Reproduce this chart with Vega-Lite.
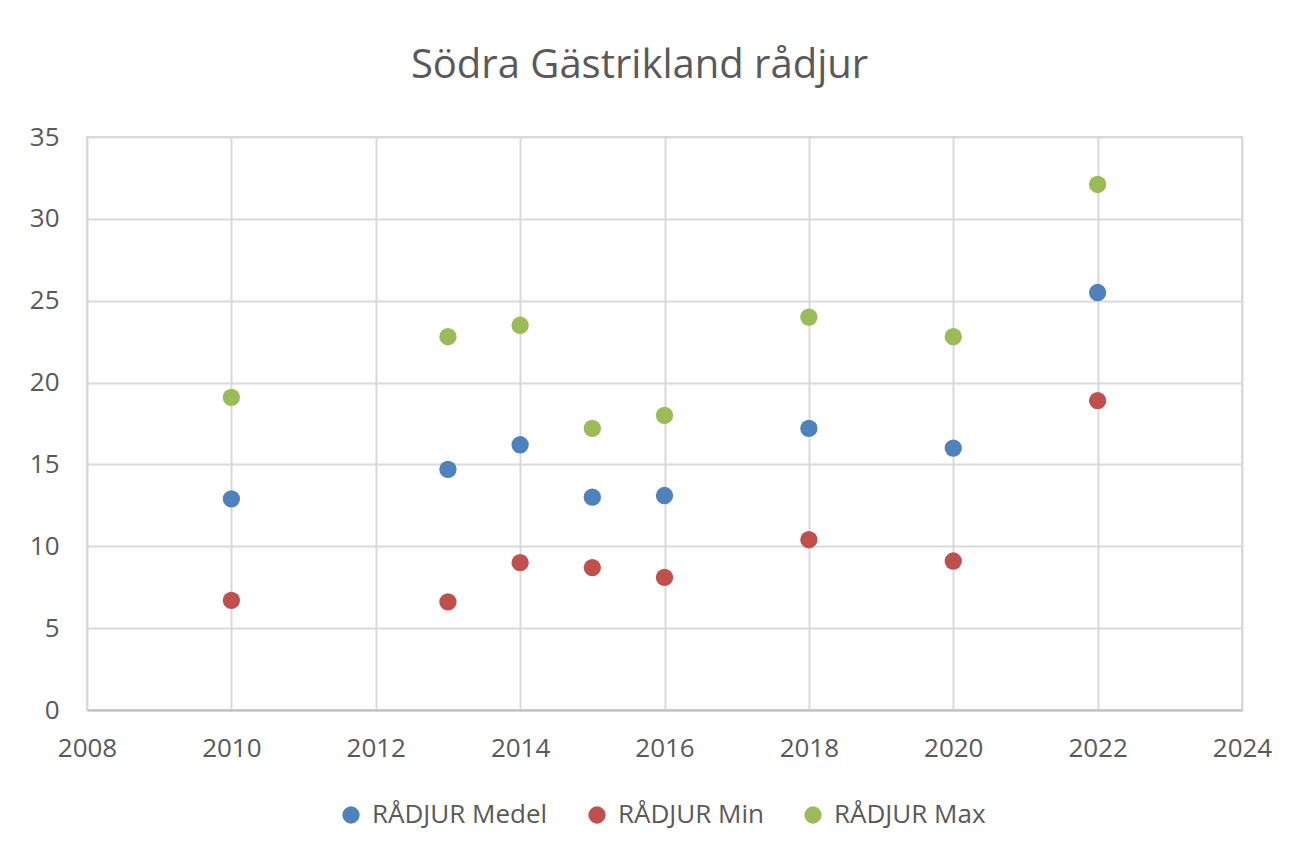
{
  "$schema": "https://vega.github.io/schema/vega-lite/v6.json",
  "autosize": {"type": "none"},
  "width": 1155,
  "height": 573,
  "padding": {"left": 87, "top": 137, "right": 59, "bottom": 147},
  "background": "white",
  "title": {
    "text": "Södra Gästrikland rådjur",
    "fontSize": 40,
    "font": "Open Sans",
    "fontWeight": "normal",
    "color": "#595959",
    "anchor": "middle",
    "frame": "group",
    "dx": -25,
    "offset": 38
  },
  "data": {
    "values": [
      {"year": 2010, "series": "RÅDJUR Medel", "value": 12.9},
      {"year": 2013, "series": "RÅDJUR Medel", "value": 14.7},
      {"year": 2014, "series": "RÅDJUR Medel", "value": 16.2},
      {"year": 2015, "series": "RÅDJUR Medel", "value": 13.0},
      {"year": 2016, "series": "RÅDJUR Medel", "value": 13.1},
      {"year": 2018, "series": "RÅDJUR Medel", "value": 17.2},
      {"year": 2020, "series": "RÅDJUR Medel", "value": 16.0},
      {"year": 2022, "series": "RÅDJUR Medel", "value": 25.5},
      {"year": 2010, "series": "RÅDJUR Min", "value": 6.7},
      {"year": 2013, "series": "RÅDJUR Min", "value": 6.6},
      {"year": 2014, "series": "RÅDJUR Min", "value": 9.0},
      {"year": 2015, "series": "RÅDJUR Min", "value": 8.7},
      {"year": 2016, "series": "RÅDJUR Min", "value": 8.1},
      {"year": 2018, "series": "RÅDJUR Min", "value": 10.4},
      {"year": 2020, "series": "RÅDJUR Min", "value": 9.1},
      {"year": 2022, "series": "RÅDJUR Min", "value": 18.9},
      {"year": 2010, "series": "RÅDJUR Max", "value": 19.1},
      {"year": 2013, "series": "RÅDJUR Max", "value": 22.8},
      {"year": 2014, "series": "RÅDJUR Max", "value": 23.5},
      {"year": 2015, "series": "RÅDJUR Max", "value": 17.2},
      {"year": 2016, "series": "RÅDJUR Max", "value": 18.0},
      {"year": 2018, "series": "RÅDJUR Max", "value": 24.0},
      {"year": 2020, "series": "RÅDJUR Max", "value": 22.8},
      {"year": 2022, "series": "RÅDJUR Max", "value": 32.1}
    ]
  },
  "mark": {"type": "circle", "size": 300, "opacity": 1},
  "encoding": {
    "x": {
      "field": "year",
      "type": "quantitative",
      "scale": {"domain": [2008, 2024], "nice": false, "zero": false},
      "axis": {
        "values": [2008, 2010, 2012, 2014, 2016, 2018, 2020, 2022, 2024],
        "format": "d",
        "title": null,
        "ticks": false,
        "labelFlush": false,
        "labelPadding": 25,
        "labelFontSize": 26,
        "labelFont": "Open Sans",
        "labelColor": "#595959",
        "domainColor": "#bfbfbf",
        "domainWidth": 2,
        "gridColor": "#d9d9d9",
        "gridWidth": 2
      }
    },
    "y": {
      "field": "value",
      "type": "quantitative",
      "scale": {"domain": [0, 35], "nice": false},
      "axis": {
        "values": [0, 5, 10, 15, 20, 25, 30, 35],
        "title": null,
        "ticks": false,
        "domain": false,
        "labelPadding": 28,
        "labelFontSize": 26,
        "labelFont": "Open Sans",
        "labelColor": "#595959",
        "gridColor": "#d9d9d9",
        "gridWidth": 2
      }
    },
    "color": {
      "field": "series",
      "type": "nominal",
      "sort": ["RÅDJUR Medel", "RÅDJUR Min", "RÅDJUR Max"],
      "scale": {
        "domain": ["RÅDJUR Medel", "RÅDJUR Min", "RÅDJUR Max"],
        "range": ["#4F81BD", "#C0504D", "#9BBB59"]
      },
      "legend": {
        "title": null,
        "orient": "none",
        "direction": "horizontal",
        "legendX": 251,
        "legendY": 665,
        "symbolType": "circle",
        "symbolSize": 300,
        "symbolOpacity": 1,
        "labelFontSize": 26,
        "labelFont": "Open Sans",
        "labelColor": "#595959",
        "labelOffset": 8,
        "labelLimit": 400,
        "columnPadding": 36
      }
    }
  },
  "config": {"view": {"stroke": "#d9d9d9", "strokeWidth": 2}}
}
